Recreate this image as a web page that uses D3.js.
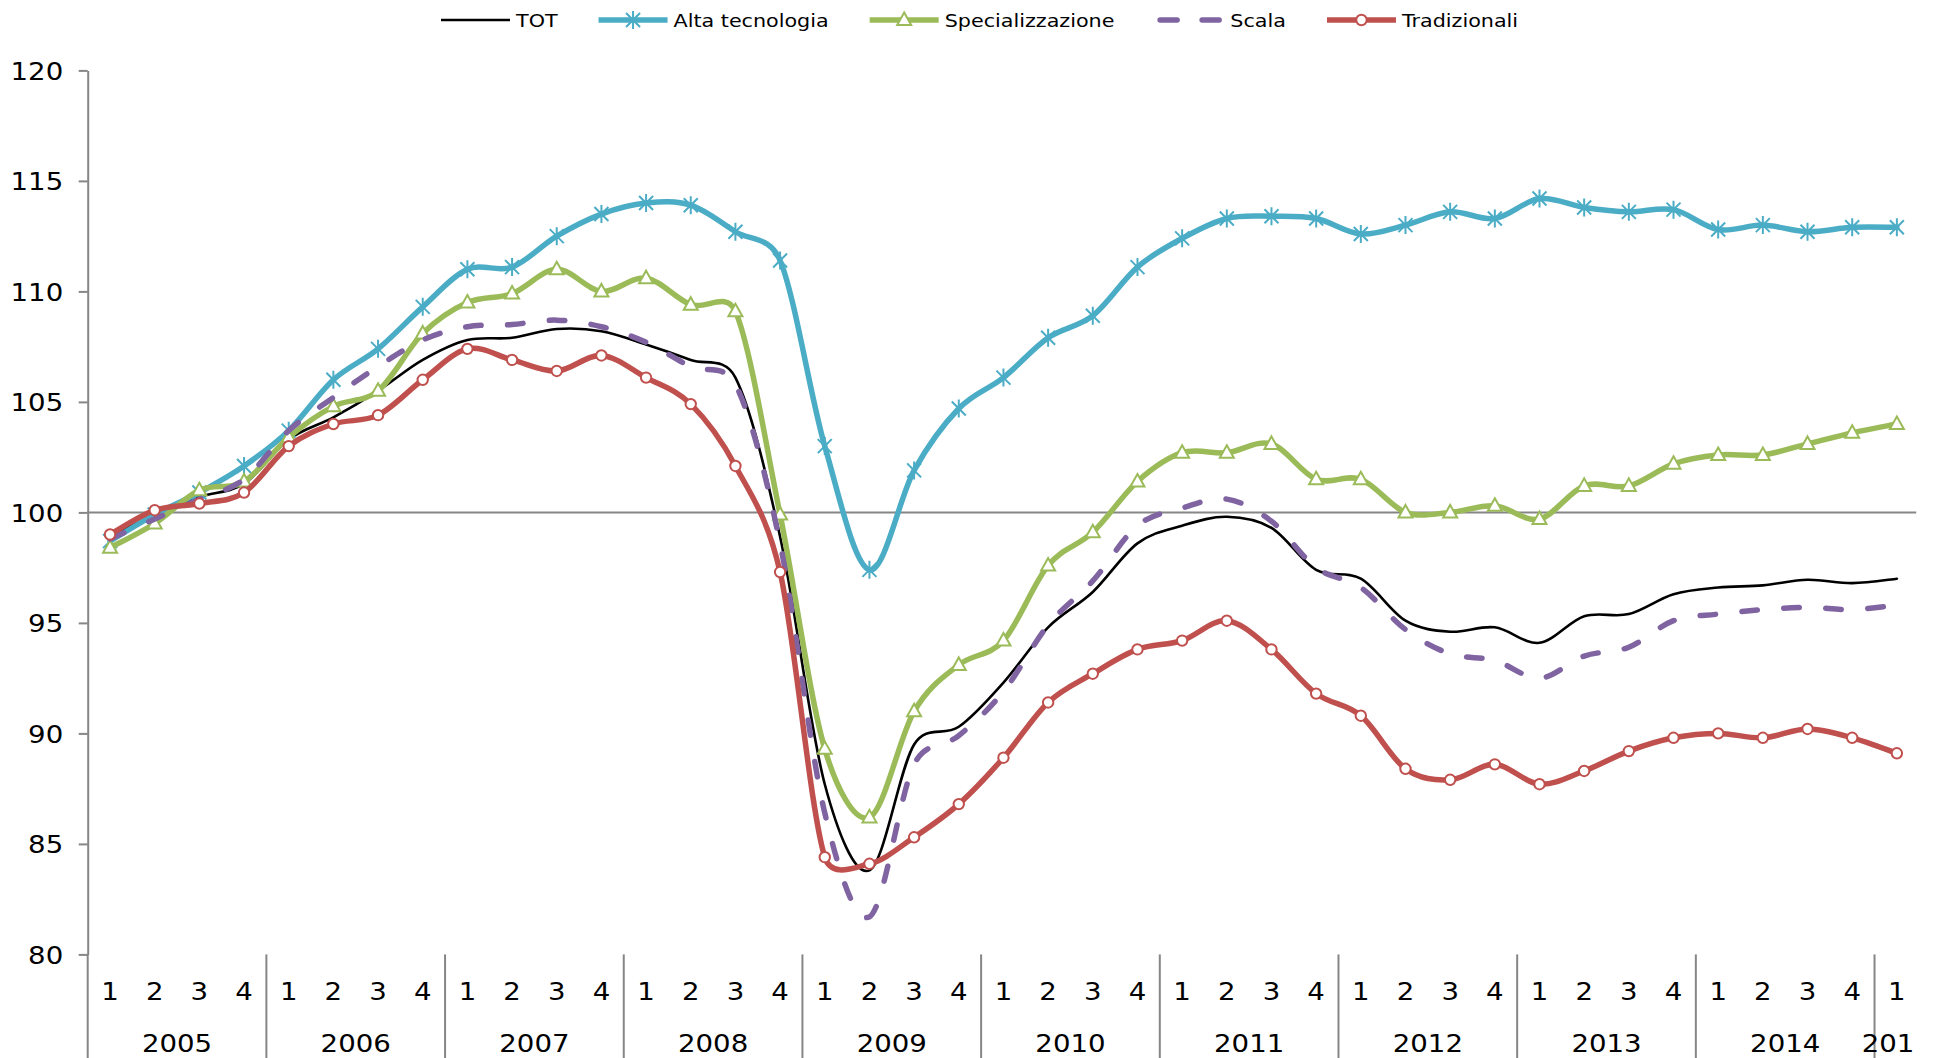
<!DOCTYPE html>
<html><head><meta charset="utf-8">
<script src="https://cdn.jsdelivr.net/npm/d3@7"></script>
<style>html,body{margin:0;padding:0;background:#fff;overflow:hidden}</style>
</head><body><svg id="c" width="1936" height="1058"></svg>
<script>
// ---------------- DATA ----------------
const categories = [
  "2005-1","2005-2","2005-3","2005-4",
  "2006-1","2006-2","2006-3","2006-4",
  "2007-1","2007-2","2007-3","2007-4",
  "2008-1","2008-2","2008-3","2008-4",
  "2009-1","2009-2","2009-3","2009-4",
  "2010-1","2010-2","2010-3","2010-4",
  "2011-1","2011-2","2011-3","2011-4",
  "2012-1","2012-2","2012-3","2012-4",
  "2013-1","2013-2","2013-3","2013-4",
  "2014-1","2014-2","2014-3","2014-4",
  "2015-1"
];
const yearLabels = ["2005","2006","2007","2008","2009","2010","2011","2012","2013","2014","2015"];
const yTicks = [80,85,90,95,100,105,110,115,120];

const tot = [98.9,99.9,100.7,101.3, 103.3,104.3,105.5,106.9, 107.8,107.9,108.3,108.2,
  107.6,106.9,106.1,98.9, 87.7,83.8,89.5,90.3, 92.3,94.8,96.4,98.6,
  99.4,99.8,99.3,97.4, 97.0,95.1,94.6,94.8, 94.1,95.3,95.4,96.3, 96.6,96.7,96.95,96.8, 97.0];
const altaTecnologia = [98.7,99.9,100.9,102.1, 103.7,106.0,107.4,109.3, 111.0,111.1,112.5,113.5,
  114.0,113.9,112.7,111.4, 103.0,97.4,101.9,104.7, 106.1,107.9,108.9,111.1,
  112.4,113.3,113.4,113.3, 112.6,113.0,113.6,113.3, 114.2,113.8,113.6,113.7, 112.8,113.0,112.7,112.9, 112.9];
const specializzazione = [98.4,99.5,101.0,101.4, 103.4,104.8,105.5,108.1, 109.5,109.9,111.0,110.0,
  110.6,109.4,109.1,99.9, 89.3,86.2,91.0,93.1, 94.2,97.6,99.1,101.4,
  102.7,102.7,103.1,101.5, 101.5,100.0,100.0,100.3, 99.7,101.2,101.2,102.2, 102.6,102.6,103.1,103.6, 104.0];
const scala = [98.8,99.7,100.6,101.5, 103.7,105.2,106.6,107.8, 108.4,108.5,108.7,108.4,
  107.7,106.6,105.8,98.6, 86.4,81.7,88.6,89.9, 91.9,94.9,96.9,99.4,
  100.2,100.6,99.6,97.5, 96.6,94.7,93.6,93.3, 92.5,93.5,93.9,95.1, 95.4,95.6,95.7,95.6, 95.8];
const tradizionali = [99.0,100.1,100.4,100.9, 103.0,104.0,104.4,106.0, 107.4,106.9,106.4,107.1,
  106.1,104.9,102.1,97.3, 84.4,84.1,85.3,86.8, 88.9,91.4,92.7,93.8,
  94.2,95.1,93.8,91.8, 90.8,88.4,87.9,88.6, 87.7,88.3,89.2,89.8, 90.0,89.8,90.2,89.8, 89.1];

const seriesNames = ["TOT","Alta tecnologia","Specializzazione","Scala","Tradizionali"];
const seriesValues = [tot, altaTecnologia, specializzazione, scala, tradizionali];

// ---------------- STYLE ----------------
const styles = [
  {color:"#000000", width:2.6, dash:null, marker:null},
  {color:"#4BACC6", width:5.5, dash:null, marker:"star"},
  {color:"#9BBB59", width:5.5, dash:null, marker:"triangle"},
  {color:"#8064A2", width:5.5, dash:"15.5 26.5", marker:null},
  {color:"#C0504D", width:5.5, dash:null, marker:"circle"}
];
const FONT = "DejaVu Sans";
const STRETCH = 1.15;
const axisColor = "#868686";

const svg = d3.select("#c");
svg.append("rect").attr("width",1936).attr("height",1058).attr("fill","#fff");

const x = d3.scaleBand().domain(categories).range([87.7, 1919.2]).paddingInner(0).paddingOuter(0);
const y = d3.scaleLinear().domain([80,120]).range([954.4, 70.4]);
const cx = c => x(c) + x.bandwidth()/2;

function stretchText(sel, tx, ty){
  sel.attr("x",0).attr("y",0).attr("dy",null)
     .attr("transform", (d,i) => `translate(${typeof tx==="function"?tx(d,i):tx},${typeof ty==="function"?ty(d,i):ty}) scale(${STRETCH},1)`);
}

// Smoothed line (Catmull-Rom style tangents, control arms limited to half the segment)
function smoothPath(vals){
  const p = vals.map((v,i) => [cx(categories[i]), y(v)]);
  const n = p.length;
  const tan = p.map((_,i) => {
    const a = p[Math.max(0,i-1)], b = p[Math.min(n-1,i+1)];
    return [(b[0]-a[0])/6, (b[1]-a[1])/6];
  });
  const path = d3.path();
  path.moveTo(p[0][0], p[0][1]);
  for(let i=0;i<n-1;i++){
    const seg = Math.hypot(p[i+1][0]-p[i][0], p[i+1][1]-p[i][1]);
    const lim = seg*0.5;
    const clamp = t => { const l = Math.hypot(t[0],t[1]); const s = l>lim ? lim/l : 1; return [t[0]*s, t[1]*s]; };
    const A = clamp(tan[i]), B = clamp(tan[i+1]);
    path.bezierCurveTo(p[i][0]+A[0], p[i][1]+A[1], p[i+1][0]-B[0], p[i+1][1]-B[1], p[i+1][0], p[i+1][1]);
  }
  return path.toString();
}

// ---- Y axis ----
const yAxis = svg.append("g").attr("transform","translate(87.7,0)")
  .call(d3.axisLeft(y).tickValues(yTicks).tickSize(9).tickSizeOuter(0));
yAxis.select(".domain").attr("stroke",axisColor).attr("stroke-width",2);
yAxis.selectAll(".tick line").attr("stroke",axisColor).attr("stroke-width",2);
yAxis.selectAll(".tick text").attr("font-family",FONT).attr("font-size",24)
  .attr("fill","#000").attr("text-anchor","end")
  .call(stretchText, -24.5, 8.7);
svg.append("line").attr("x1",87.7).attr("x2",87.7).attr("y1",y(80)).attr("y2",1058)
  .attr("stroke",axisColor).attr("stroke-width",2);

// ---- reference line at 100 ----
svg.append("line").attr("x1",87.7).attr("x2",x.range()[1]-3).attr("y1",y(100)).attr("y2",y(100))
  .attr("stroke",axisColor).attr("stroke-width",2);

// ---- X axis (quarters) ----
const xAxis = svg.append("g").attr("transform",`translate(0,${y(80)})`)
  .call(d3.axisBottom(x).tickSize(0).tickFormat(c => c.split("-")[1]));
xAxis.select(".domain").remove();
xAxis.selectAll(".tick text").attr("font-family",FONT).attr("font-size",24)
  .attr("fill","#000").attr("text-anchor","middle")
  .call(stretchText, 0, 45.6);

// year separators
svg.append("g").selectAll("line")
  .data(categories.filter((c,i) => i>0 && c.endsWith("-1")))
  .join("line")
  .attr("x1", c => x(c)).attr("x2", c => x(c))
  .attr("y1", y(80)).attr("y2", 1058)
  .attr("stroke",axisColor).attr("stroke-width",2);

// year labels
svg.append("defs").append("clipPath").attr("id","clipYears")
  .append("rect").attr("x",0).attr("y",0).attr("width",1914).attr("height",1058);
const yearGroups = yearLabels.map(yr => {
  const cs = categories.filter(c => c.startsWith(yr));
  return {yr, mid: (x(cs[0]) + x(cs[cs.length-1]) + x.bandwidth())/2};
});
svg.append("g").attr("clip-path","url(#clipYears)").selectAll("text")
  .data(yearGroups).join("text")
  .attr("font-family",FONT).attr("font-size",24).attr("fill","#000").attr("text-anchor","middle")
  .text(d => d.yr)
  .call(stretchText, d => d.mid, 1052);

// ---- markers ----
function drawMarker(g, type, color){
  if(type==="star"){
    g.append("path").attr("d","M-7,-7L7,7M-7,7L7,-7M0,-9L0,9")
      .attr("stroke",color).attr("stroke-width",2).attr("fill","none");
  } else if(type==="triangle"){
    g.append("path").attr("d","M0,-7.5L7,5L-7,5Z")
      .attr("stroke",color).attr("stroke-width",2).attr("fill","#fff");
  } else if(type==="circle"){
    g.append("circle").attr("r",5.2).attr("stroke",color).attr("stroke-width",2).attr("fill","#fff");
  }
}

// ---- lines ----
seriesValues.forEach((vals, si) => {
  const st = styles[si];
  const g = svg.append("g");
  g.append("path").attr("d", smoothPath(vals))
    .attr("fill","none").attr("stroke",st.color).attr("stroke-width",st.width)
    .attr("stroke-linecap","round").attr("stroke-linejoin","round")
    .attr("stroke-dasharray", st.dash);
  if(st.marker){
    g.selectAll("g.m").data(vals).join("g").attr("class","m")
      .attr("transform",(v,i) => `translate(${cx(categories[i])},${y(v)})`)
      .each(function(){ drawMarker(d3.select(this), st.marker, st.color); });
  }
});

// ---- legend ----
const legend = svg.append("g");
let lx = 441;
const ly = 20;
seriesNames.forEach((name, si) => {
  const st = styles[si];
  const g = legend.append("g");
  g.append("line").attr("x1",lx).attr("x2",lx+69).attr("y1",ly).attr("y2",ly)
    .attr("stroke",st.color).attr("stroke-width",st.width)
    .attr("stroke-linecap", st.dash ? "round" : "butt")
    .attr("stroke-dasharray", st.dash ? "17 25" : null)
    .attr("stroke-dashoffset", st.dash ? -4.75 : null);
  if(st.marker){
    const mg = g.append("g").attr("transform",`translate(${lx+34.5},${ly})`);
    drawMarker(mg, st.marker, st.color);
  }
  const t = g.append("text").attr("font-family",FONT).attr("font-size",18).attr("fill","#000")
    .text(name).call(stretchText, lx+75, ly+6.6);
  const w = t.node().getComputedTextLength()*STRETCH;
  lx = lx + 75 + w + 41;
});
</script></body></html>
